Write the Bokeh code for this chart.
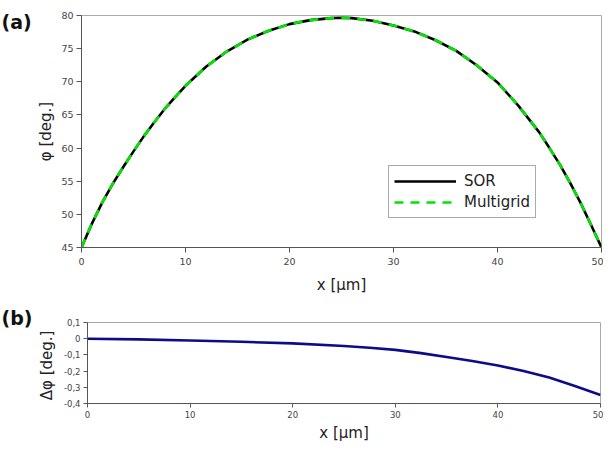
from bokeh.plotting import figure
from bokeh.layouts import column, row
from bokeh.models import Range1d, FixedTicker, Label, Legend, LegendItem, CustomJSTickFormatter
from bokeh.embed import file_html
from bokeh.resources import INLINE

# ---- data ----
x_a = [0, 1, 2, 3, 4, 5, 6, 7, 8, 9, 10, 12, 14, 16, 18, 20, 22, 24, 25, 26, 28, 30, 32, 34, 36, 38, 40, 42, 44, 45, 46, 47, 48, 49, 50]
phi_sor = [45.0, 48.6, 51.8, 54.6, 57.1, 59.5, 61.8, 63.9, 65.9, 67.7, 69.4, 72.3, 74.6, 76.4, 77.7, 78.7, 79.3, 79.6, 79.65, 79.6, 79.2, 78.5, 77.6, 76.3, 74.7, 72.5, 69.9, 66.4, 62.4, 60.0, 57.5, 54.7, 51.7, 48.4, 45.0]
phi_multigrid = [45.0, 48.6, 51.8, 54.6, 57.1, 59.5, 61.8, 63.9, 65.9, 67.7, 69.4, 72.3, 74.6, 76.4, 77.7, 78.7, 79.3, 79.6, 79.65, 79.6, 79.2, 78.5, 77.6, 76.3, 74.7, 72.5, 69.9, 66.4, 62.4, 60.0, 57.5, 54.7, 51.7, 48.4, 45.0]

x_b = [0, 5, 10, 15, 20, 25, 27.5, 30, 32.5, 35, 37.5, 40, 42.5, 45, 47.5, 50]
dphi = [0.0, -0.004, -0.011, -0.019, -0.029, -0.045, -0.056, -0.069, -0.089, -0.113, -0.138, -0.165, -0.200, -0.240, -0.292, -0.348]

xticks = [0, 10, 20, 30, 40, 50]
yticks_a = [45, 50, 55, 60, 65, 70, 75, 80]
yticks_b = [0.1, 0, -0.1, -0.2, -0.3, -0.4]

FONT = "DejaVu Sans"
TAGW = 34
W = 603 - TAGW


def style(p, tick_size, label_size):
    p.xgrid.visible = False
    p.ygrid.visible = False
    p.outline_line_color = "#aaaaaa"
    p.outline_line_width = 1
    p.background_fill_color = "white"
    p.border_fill_color = "white"
    for ax in (p.xaxis[0], p.yaxis[0]):
        ax.axis_line_color = "#555555"
        ax.major_tick_line_color = "#555555"
        ax.minor_tick_line_color = None
        ax.major_tick_in = 0
        ax.major_tick_out = 5
        ax.major_label_text_font = FONT
        ax.major_label_text_font_size = tick_size
        ax.major_label_text_color = "#444444"
        ax.axis_label_text_font = FONT
        ax.axis_label_text_font_size = label_size
        ax.axis_label_text_font_style = "normal"
        ax.axis_label_text_color = "#222222"


def tag_fig(text, h):
    f = figure(width=TAGW, height=h, output_backend="svg", toolbar_location=None,
               x_range=Range1d(0, 1), y_range=Range1d(0, 1),
               x_axis_type=None, y_axis_type=None, frame_align=False,
               min_border=0, min_border_left=0, min_border_right=0,
               min_border_top=0, min_border_bottom=0)
    f.xgrid.visible = False
    f.ygrid.visible = False
    f.outline_line_color = None
    f.border_fill_color = "white"
    f.background_fill_color = "white"
    f.add_layout(Label(x=0, y=1, x_offset=1, y_offset=-10, text=text, text_font=FONT,
                       text_font_size="19px", text_font_style="bold", text_color="#111111",
                       text_baseline="top", text_align="left"))
    return f


# ---- panel (a) ----
HA = 296
pa = figure(width=W, height=HA, output_backend="svg", toolbar_location=None,
            x_range=Range1d(0, 50), y_range=Range1d(45, 80), frame_align=False,
            min_border_left=40, min_border_right=2, min_border_top=15, min_border_bottom=49)
style(pa, "9.5px", "15px")
pa.xaxis.ticker = FixedTicker(ticks=xticks)
pa.yaxis.ticker = FixedTicker(ticks=yticks_a)
pa.xaxis.axis_label = "x [µm]"
pa.yaxis.axis_label = "φ [deg.]"
pa.xaxis.major_label_standoff = 5
pa.yaxis.major_label_standoff = 3
pa.xaxis.axis_label_standoff = 8
pa.yaxis.axis_label_standoff = 3

r_sor = pa.line(x_a, phi_sor, line_color="black", line_width=2.6)
r_mg = pa.line(x_a, phi_multigrid, line_color="#00e600", line_width=2.6, line_dash="9 7")

legend = Legend(items=[LegendItem(label="SOR", renderers=[r_sor]),
                       LegendItem(label="Multigrid", renderers=[r_mg])],
                location=(307, 29), orientation="vertical",
                label_text_font=FONT, label_text_font_size="15px", label_text_color="#222222",
                glyph_width=62, glyph_height=20, label_height=20, label_standoff=8,
                spacing=1, padding=5, margin=0,
                border_line_color="#555555", border_line_width=1,
                background_fill_color="white", background_fill_alpha=1)
pa.add_layout(legend, "center")

# ---- panel (b) ----
HB = 148
pb = figure(width=W, height=HB, output_backend="svg", toolbar_location=None,
            x_range=Range1d(0, 50), y_range=Range1d(-0.4, 0.1), frame_align=False,
            min_border_left=47, min_border_right=3, min_border_top=26, min_border_bottom=37)
style(pb, "8.5px", "15px")
pb.xaxis.ticker = FixedTicker(ticks=xticks)
pb.yaxis.ticker = FixedTicker(ticks=yticks_b)
pb.yaxis.formatter = CustomJSTickFormatter(code="""
if (Math.abs(tick) < 1e-9) { return '0'; }
return tick.toFixed(1).replace('.', ',');
""")
pb.xaxis.axis_label = "x [µm]"
pb.yaxis.axis_label = "Δφ  [deg.]"
pb.xaxis.major_tick_out = 4
pb.yaxis.major_tick_out = 4
pb.xaxis.major_label_standoff = 3
pb.yaxis.major_label_standoff = 3
pb.xaxis.axis_label_standoff = 3
pb.yaxis.axis_label_standoff = 5

pb.line(x_b, dphi, line_color="#0c0c8a", line_width=2.6)

layout = column(row(tag_fig("(a)", HA), pa, spacing=0),
                row(tag_fig("(b)", HB), pb, spacing=0), spacing=0)
open("out.html", "w").write(file_html(layout, INLINE))
